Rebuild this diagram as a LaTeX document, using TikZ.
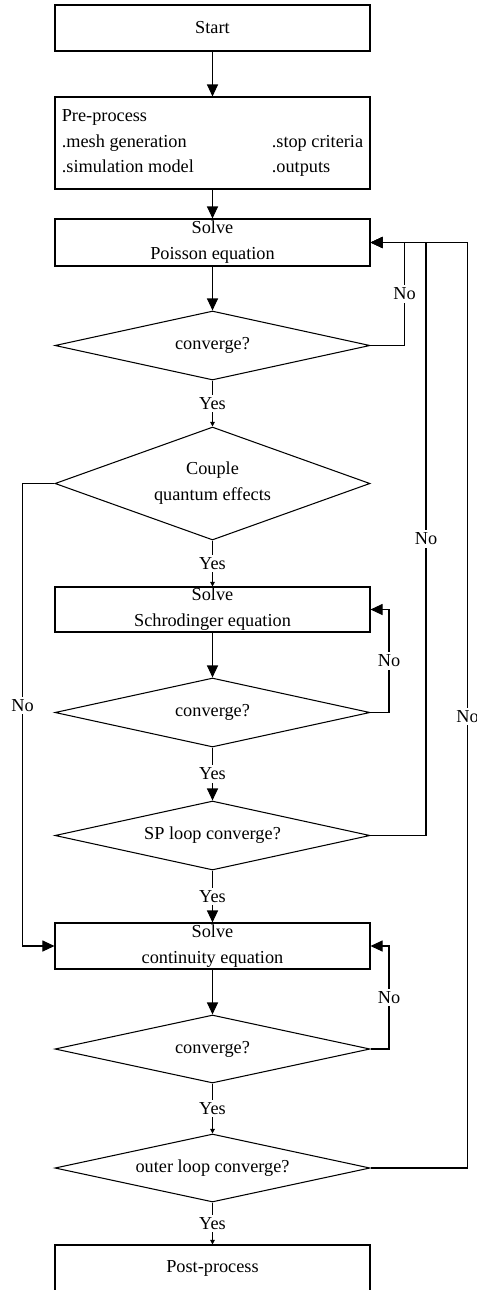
\documentclass[tikz,border=0pt]{standalone}
\usepackage{fontspec}
\setmainfont{Liberation Serif}
\usepackage{tikz}
\usetikzlibrary{shapes.geometric,arrows.meta,positioning}

\begin{document}
\begin{tikzpicture}[font=\fontsize{10.4}{14.7}\selectfont,line width=0.6pt,
  procbox/.style={rectangle,draw,minimum width=6.3cm,minimum height=0.92cm,
                  inner sep=0pt,align=center},
  decide/.style={diamond,draw,aspect=4.6,minimum width=6.3cm,minimum height=1.38cm,
                 inner sep=0pt,align=center},
  lbl/.style={fill=white,inner sep=1.5pt},
  link/.style={-{Triangle[length=0.24cm,width=0.22cm]}},
  thin link/.style={-{Triangle[length=0.09cm,width=0.09cm]}}]

  \useasboundingbox (0,0) rectangle (9.54,-25.8);

  % main column
  \node[procbox] (start) at (4.25,-0.56) {Start};
  \node[procbox,minimum height=1.84cm,align=left] (pre) at (4.25,-2.86) {
    Pre-process\\
    \makebox[4.2cm][l]{.mesh generation}.stop criteria\\
    \makebox[4.2cm][l]{.simulation model}.outputs};
  \node[procbox,minimum height=0.94cm] (poisson) at (4.25,-4.85) {Solve\\Poisson equation};
  \node[decide] (convP) at (4.25,-6.91) {converge?};
  \node[decide,aspect=2.79,minimum height=2.26cm] (couple) at (4.25,-9.67)
    {Couple\\quantum effects};
  \node[procbox,minimum height=0.9cm] (schr) at (4.25,-12.19) {Solve\\Schrodinger equation};
  \node[decide] (convS) at (4.25,-14.25) {converge?};
  \node[decide] (sploop) at (4.25,-16.71) {SP loop converge?};
  \node[procbox] (cont) at (4.25,-18.92) {Solve\\continuity equation};
  \node[decide,minimum height=1.36cm] (convC) at (4.25,-20.98) {converge?};
  \node[decide,minimum height=1.36cm] (outer) at (4.25,-23.36) {outer loop converge?};
  \node[procbox] (post) at (4.25,-25.36) {Post-process};

  % loop corners
  \coordinate (rP) at (8.09,-4.85);
  \coordinate (rSP) at (8.52,-4.85);
  \coordinate (rOut) at (9.35,-4.85);
  \coordinate (rS) at (7.78,-12.19);
  \coordinate (rC) at (7.78,-18.92);
  \coordinate (lQ) at (0.45,-18.92);

  \draw[link] (start) -- (pre);
  \draw[link] (pre) -- (poisson);
  \draw[link] (poisson) -- (convP);
  \draw[thin link] (convP) -- node[lbl]{Yes} (couple);
  \draw[thin link] (couple) -- node[lbl]{Yes} (schr);
  \draw[link] (schr) -- (convS);
  \draw[link] (convS) -- node[lbl]{Yes} (sploop);
  \draw[link] (sploop) -- node[lbl]{Yes} (cont);
  \draw[link] (cont) -- (convC);
  \draw[thin link] (convC) -- node[lbl]{Yes} (outer);
  \draw[thin link] (outer) -- node[lbl]{Yes} (post);

  % No branches
  \draw[link] (convP.east) -| (rP) node[lbl,pos=0.75]{No} -- (poisson.east);
  \draw[link] (sploop.east) -| (rSP) node[lbl,pos=0.75]{No} -- (poisson.east);
  \draw[link] (outer.east) -| (rOut) node[lbl,pos=0.744]{No} -- (poisson.east);
  \draw[link] (convS.east) -| (rS) node[lbl,pos=0.75]{No} -- (schr.east);
  \draw[link] (convC.east) -| (rC) node[lbl,pos=0.75]{No} -- (cont.east);
  \draw[link] (couple.west) -| (lQ) node[lbl,pos=0.74]{No} -- (cont.west);
\end{tikzpicture}
\end{document}
